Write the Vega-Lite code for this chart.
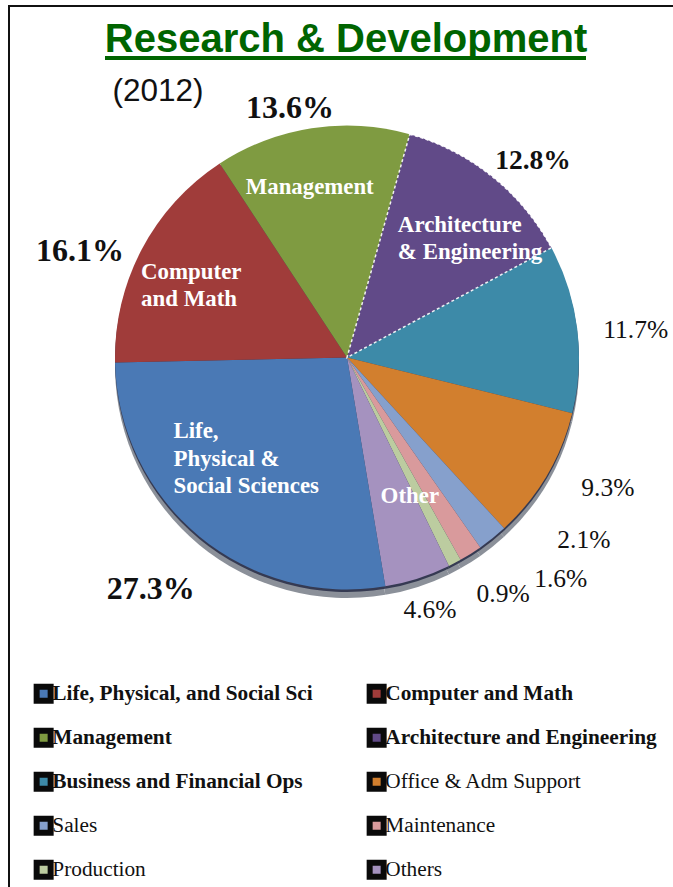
{
"$schema":"https://vega.github.io/schema/vega-lite/v6.json",
"width":680,"height":900,
"autosize":{"type":"none"},
"padding":{"left":9,"top":6,"right":0,"bottom":0},
"background":"white",
"view":{"stroke":"#111111","strokeWidth":2,"fill":"white"},
"config":{"text":{"font":"Liberation Serif"}},
"data":{"values":[
{"name":"Architecture and Engineering","pct":12.8,"ord":1},
{"name":"Business and Financial Ops","pct":11.7,"ord":2},
{"name":"Office & Adm Support","pct":9.3,"ord":3},
{"name":"Sales","pct":2.1,"ord":4},
{"name":"Maintenance","pct":1.6,"ord":5},
{"name":"Production","pct":0.9,"ord":6},
{"name":"Others","pct":4.6,"ord":7},
{"name":"Life, Physical, and Social Sci","pct":27.3,"ord":8},
{"name":"Computer and Math","pct":16.1,"ord":9},
{"name":"Management","pct":13.6,"ord":10}
]},
"transform":[
{"stack":"pct","sort":[{"field":"ord","order":"ascending"}],"as":["a0","a1"]},
{"calculate":"(datum.a0+datum.a1)/2","as":"mid"},
{"calculate":"format(datum.pct,'.1f')+'%'","as":"lbl"}
],
"layer":[
{"mark":{"type":"arc","radius":232,"color":"#8b9099"},"encoding":{"x":{"value":338},"y":{"value":360},"theta":{"field":"a0","type":"quantitative","scale":{"domain":[0,100],"range":[0.274,6.557]}},"theta2":{"field":"a1"}}},
{"mark":{"type":"arc","radius":232,"color":"#1f2440","opacity":0.8},"encoding":{"x":{"value":338},"y":{"value":354},"theta":{"field":"a0","type":"quantitative"},"theta2":{"field":"a1"}}},
{"mark":{"type":"arc","radius":232},"encoding":{"x":{"value":338},"y":{"value":351.5},"theta":{"field":"a0","type":"quantitative"},"theta2":{"field":"a1"},
"color":{"field":"name","type":"nominal","scale":{"domain":["Life, Physical, and Social Sci","Computer and Math","Management","Architecture and Engineering","Business and Financial Ops","Office & Adm Support","Sales","Maintenance","Production","Others"],"range":["#4a79b5","#a03c3a","#7f9b41","#614a88","#3d8aa8","#d27f2e","#86a0cc","#d99a9c","#bccca0","#a592bf"]},
"legend":{"title":null,"orient":"none","legendX":24,"legendY":677,"direction":"horizontal","columns":2,"columnPadding":44,"rowPadding":5,"gridAlign":"each","symbolType":"square","symbolSize":196,"symbolStrokeWidth":6,"symbolStrokeColor":"#0a0a0a","labelFont":"Liberation Serif","labelFontSize":21.3,"labelColor":"#111111","labelLimit":320,"labelOffset":-2,"symbolOpacity":1,
"encode":{"labels":{"update":{"fontWeight":{"signal":"indexof(['Life, Physical, and Social Sci','Computer and Math','Management','Architecture and Engineering','Business and Financial Ops'],datum.value)>=0?'bold':'normal'"}}}}}}}},
{"transform":[{"filter":"datum.ord==1"}],"mark":{"type":"arc","radius":232,"fillOpacity":0,"stroke":"#ffffff","strokeWidth":1.5,"strokeDash":[3,2.5],"strokeOpacity":0.9},"encoding":{"x":{"value":338},"y":{"value":351.5},"theta":{"field":"a0","type":"quantitative"},"theta2":{"field":"a1"}}},
{"transform":[{"filter":"datum.ord==10"}],"mark":{"type":"text","radius":255,"dx":-18,"dy":3,"fontSize":32,"fontWeight":"bold","color":"#111111"},"encoding":{"x":{"value":338},"y":{"value":351},"theta":{"field":"mid","type":"quantitative"},"text":{"field":"lbl"}}},
{"transform":[{"filter":"datum.ord==1"}],"mark":{"type":"text","radius":270,"dx":17,"dy":15,"fontSize":27.5,"fontWeight":"bold","color":"#111111"},"encoding":{"x":{"value":338},"y":{"value":351},"theta":{"field":"mid","type":"quantitative"},"text":{"field":"lbl"}}},
{"transform":[{"filter":"datum.ord==2"}],"mark":{"type":"text","radius":290,"dx":1,"dy":9,"fontSize":25.5,"color":"#111111"},"encoding":{"x":{"value":338},"y":{"value":351},"theta":{"field":"mid","type":"quantitative"},"text":{"field":"lbl"}}},
{"transform":[{"filter":"datum.ord==3"}],"mark":{"type":"text","radius":295,"dx":7,"dy":-19,"fontSize":25.5,"color":"#111111"},"encoding":{"x":{"value":338},"y":{"value":351},"theta":{"field":"mid","type":"quantitative"},"text":{"field":"lbl"}}},
{"transform":[{"filter":"datum.ord==4"}],"mark":{"type":"text","radius":290,"dx":55,"dy":-43,"fontSize":25.5,"color":"#111111"},"encoding":{"x":{"value":338},"y":{"value":351},"theta":{"field":"mid","type":"quantitative"},"text":{"field":"lbl"}}},
{"transform":[{"filter":"datum.ord==5"}],"mark":{"type":"text","radius":300,"dx":54,"dy":-32,"fontSize":25.5,"color":"#111111"},"encoding":{"x":{"value":338},"y":{"value":351},"theta":{"field":"mid","type":"quantitative"},"text":{"field":"lbl"}}},
{"transform":[{"filter":"datum.ord==6"}],"mark":{"type":"text","radius":280,"dx":26,"dy":-11,"fontSize":25.5,"color":"#111111"},"encoding":{"x":{"value":338},"y":{"value":351},"theta":{"field":"mid","type":"quantitative"},"text":{"field":"lbl"}}},
{"transform":[{"filter":"datum.ord==7"}],"mark":{"type":"text","radius":265,"dx":2,"dy":1,"fontSize":25.5,"color":"#111111"},"encoding":{"x":{"value":338},"y":{"value":351},"theta":{"field":"mid","type":"quantitative"},"text":{"field":"lbl"}}},
{"transform":[{"filter":"datum.ord==8"}],"mark":{"type":"text","radius":300,"dx":-5,"dy":1,"fontSize":32,"fontWeight":"bold","color":"#111111"},"encoding":{"x":{"value":338},"y":{"value":351},"theta":{"field":"mid","type":"quantitative"},"text":{"field":"lbl"}}},
{"transform":[{"filter":"datum.ord==9"}],"mark":{"type":"text","radius":295,"dx":-6,"dy":31,"fontSize":32,"fontWeight":"bold","color":"#111111"},"encoding":{"x":{"value":338},"y":{"value":351},"theta":{"field":"mid","type":"quantitative"},"text":{"field":"lbl"}}},
{"transform":[{"filter":"datum.ord==10"}],"mark":{"type":"text","radius":172,"dx":-11,"dy":0,"fontSize":22.8,"fontWeight":"bold","color":"#ffffff"},"encoding":{"x":{"value":338},"y":{"value":351},"theta":{"field":"mid","type":"quantitative"},"text":{"value":"Management"}}},
{"transform":[{"filter":"datum.ord==1"}],"mark":{"type":"text","radius":150,"dx":-43,"dy":-14.5,"align":"left","lineHeight":27,"fontSize":22.9,"fontWeight":"bold","color":"#ffffff"},"encoding":{"x":{"value":338},"y":{"value":351},"theta":{"field":"mid","type":"quantitative"},"text":{"value":["Architecture","& Engineering"]}}},
{"transform":[{"filter":"datum.ord==9"}],"mark":{"type":"text","radius":200,"dx":-29,"dy":8,"align":"left","lineHeight":27,"fontSize":22.9,"fontWeight":"bold","color":"#ffffff"},"encoding":{"x":{"value":338},"y":{"value":351},"theta":{"field":"mid","type":"quantitative"},"text":{"value":["Computer","and Math"]}}},
{"transform":[{"filter":"datum.ord==8"}],"mark":{"type":"text","radius":200,"dx":-46,"dy":-80,"align":"left","lineHeight":27.5,"fontSize":22.9,"fontWeight":"bold","color":"#ffffff"},"encoding":{"x":{"value":338},"y":{"value":351},"theta":{"field":"mid","type":"quantitative"},"text":{"value":["Life,","Physical &","Social Sciences"]}}},
{"transform":[{"filter":"datum.ord==7"}],"mark":{"type":"text","radius":150,"dx":17,"dy":-4,"fontSize":22.9,"fontWeight":"bold","color":"#ffffff"},"encoding":{"x":{"value":338},"y":{"value":351},"theta":{"field":"mid","type":"quantitative"},"text":{"value":"Other"}}},
{"data":{"values":[{"t":"Research & Development"}]},"mark":{"type":"text","font":"Liberation Sans","fontSize":40,"fontWeight":"bold","color":"#006400"},"encoding":{"x":{"value":337},"y":{"value":34},"text":{"field":"t"}}},
{"data":{"values":[{"t":"(2012)"}]},"mark":{"type":"text","font":"Liberation Sans","fontSize":31.5,"color":"#111111"},"encoding":{"x":{"value":149},"y":{"value":86},"text":{"field":"t"}}},
{"data":{"values":[{"u":1}]},"mark":{"type":"rule","color":"#006400","strokeWidth":4},"encoding":{"x":{"value":96},"x2":{"value":577},"y":{"value":52}}}
]
}
